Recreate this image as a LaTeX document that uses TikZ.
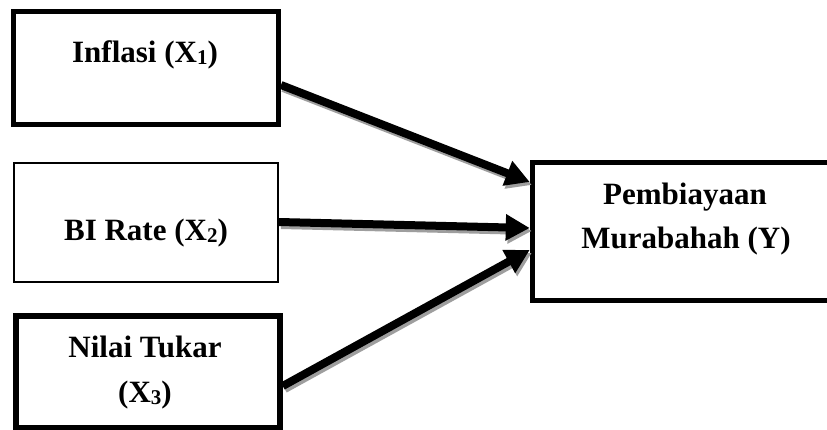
\documentclass[tikz,border=0pt]{standalone}
\usepackage{fontspec}
\setmainfont{Liberation Serif}
\usetikzlibrary{arrows.meta,calc}
\newcommand{\mysub}[1]{\raisebox{-2pt}{\fontsize{21}{21}\selectfont #1}}
\begin{document}
\begin{tikzpicture}[x=1pt,y=-1pt,
  box/.style={draw=black,fill=white,inner sep=0pt,line width=5pt},
  thinbox/.style={draw=black,fill=white,inner sep=0pt,line width=1.8pt},
  lbl/.style={anchor=base,inner sep=0pt,font=\fontsize{31}{31}\selectfont\bfseries},
  arr/.style={line width=8pt,-{Triangle[length=24pt,width=25pt]}},
  shadowarr/.style={arr,draw=black!38,transform canvas={shift={(2pt,-3pt)}}}]
\clip (0,0) rectangle (827,430);
\fill[white] (0,0) rectangle (827,430);
% boxes
\node[box,minimum width=265pt,minimum height=113pt] (b1) at (146,68) {};
\node[thinbox,minimum width=264pt,minimum height=119pt] (b2) at (146,222.5) {};
\node[box,line width=5.5pt,minimum width=264pt,minimum height=112pt] (b3) at (148,372) {};
\node[box,minimum width=300pt,minimum height=138pt] (y) at (682.25,231.5) {};
% texts
\node[lbl] (t1) at (145,63) {Inflasi (X\mysub{1})};
\node[lbl] (t2) at (146,241) {BI Rate (X\mysub{2})};
\node[lbl] (t3a) at (145,357) {Nilai Tukar};
\node[lbl] (t3b) at (145,402) {(X\mysub{3})};
\node[lbl] (ty1) at (685,205) {Pembiayaan};
\node[lbl] (ty2) at (686,249) {Murabahah (Y)};
% connector end points
\coordinate (s1) at ([yshift=-17pt]b1.east);
\coordinate (s2) at ([yshift=0.5pt]b2.east);
\coordinate (s3) at ([yshift=-14pt]b3.east);
\coordinate (e1) at ([yshift=49.5pt]y.west);
\coordinate (e2) at ([yshift=3.5pt]y.west);
\coordinate (e3) at ([yshift=-18.5pt]y.west);
% shadows
\draw[shadowarr] (s1) -- (e1);
\draw[shadowarr] (s2) -- (e2);
\draw[shadowarr] (s3) -- (e3);
% arrows
\draw[arr] (s1) -- (e1);
\draw[arr] (s2) -- (e2);
\draw[arr] (s3) -- (e3);
\end{tikzpicture}
\end{document}
